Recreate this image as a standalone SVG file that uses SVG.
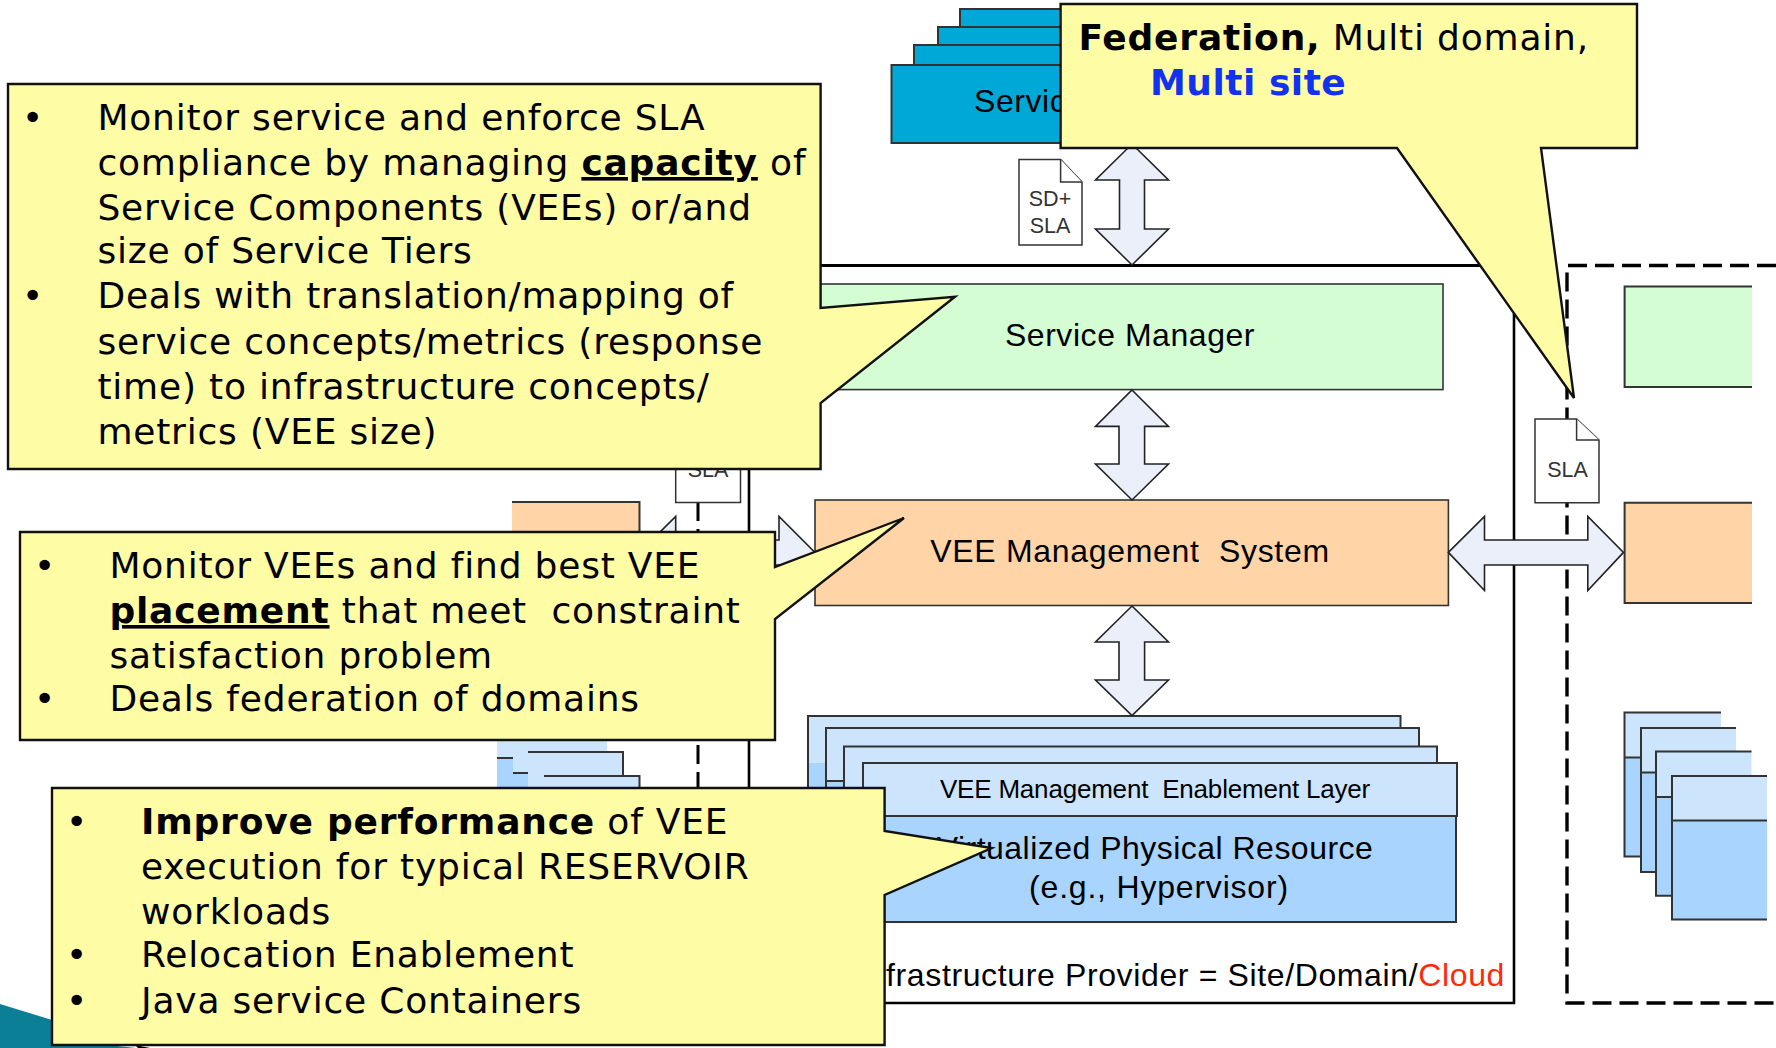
<svg xmlns="http://www.w3.org/2000/svg" width="1776" height="1048" viewBox="0 0 1776 1048">
<style>
.box{stroke:#333;stroke-width:1.6}
.svc{fill:#00a8d8;stroke:#333;stroke-width:2}
.green{fill:#d4fdd4}
.orange{fill:#ffd5a8}
.lt{fill:#cce4fc;stroke:none}
.bl{fill:#a8d4fe;stroke:none}
.ln{fill:none;stroke:#333;stroke-width:2}
.arrow{fill:#eaeff9;stroke:#222;stroke-width:1.6}
.doc{fill:#fff;stroke:#333;stroke-width:1.5}
.call{fill:#fffca6;stroke:#111;stroke-width:2.4}
.t{font-family:"Liberation Sans",Arial,sans-serif;fill:#000;font-size:32px;letter-spacing:.55px}
.d{font-family:"Liberation Sans",Arial,sans-serif;fill:#333;font-size:21.5px;text-anchor:middle}
.v{font-family:"DejaVu Sans",Verdana,sans-serif;fill:#000;font-size:36px;letter-spacing:.8px}
.b{font-weight:bold}
.m{text-anchor:middle}
</style>
<defs>
<path id="vert" class="arrow" d="M0,0 L36.5,36 L12.5,36 L12.5,85 L36.5,85 L0,121 L-36.5,85 L-12.5,85 L-12.5,36 L-36.5,36 Z"/>
</defs>
<g id="corner">
<path d="M0,1004 L52,1020 L60,1040 L136,1048 L0,1048 Z" fill="#0a7f96"/>
<path d="M135,1045 L150,1048 L138,1048 Z" fill="#000"/>
</g>
<g id="service-stack">
<rect class="svc" x="960" y="9" width="160" height="60"/>
<rect class="svc" x="938" y="27" width="180" height="60"/>
<rect class="svc" x="914" y="45" width="200" height="60"/>
<rect class="svc" x="891.5" y="65" width="220" height="78"/>
<text class="t" x="974" y="112">Servic</text>
</g>
<g id="doc-sd-sla">
<path class="doc" d="M1019,159.5 H1060.6 L1082,182 V245 H1019 Z"/>
<path class="doc" d="M1060.6,159.5 V182 H1082" fill="none"/>
<text class="d" x="1050" y="206">SD+</text>
<text class="d" x="1050" y="233">SLA</text>
</g>
<g id="cloud-box">
<path d="M749,265.5 H1514" fill="none" stroke="#000" stroke-width="3.2"/>
<path d="M1514,265.5 V1003 H749 V265.5" fill="none" stroke="#000" stroke-width="2.6"/>
</g>
<g id="peer-box">
<path d="M1776,265.5 H1567 V1003 H1776" fill="none" stroke="#000" stroke-width="3.4" stroke-dasharray="19 8"/>
</g>
<g id="left-site">
<path d="M698,502 V790" fill="none" stroke="#000" stroke-width="3" stroke-dasharray="19 8"/>
<path class="doc" d="M675.7,419 H717 L740.5,440 V502.4 H675.7 Z"/>
<text class="d" x="708" y="477">SLA</text>
<path class="orange" d="M512,502 H639.5 V605 H512 Z"/>
<path class="ln" d="M512,502 H639.5 V605"/>
<g id="left-stack">
<path class="lt" d="M497,712 H592 V860 H497 Z"/><path class="bl" d="M497,758 H592 V860 H497 Z"/><path class="ln" d="M497,758 H592"/>
<path class="lt" d="M513,728 H607 V860 H513 Z"/><path class="bl" d="M513,773 H607 V860 H513 Z"/><path class="ln" d="M513,773 H607"/>
<path class="lt" d="M528,752 H623 V860 H528 Z"/><path class="bl" d="M528,797 H623 V860 H528 Z"/><path class="ln" d="M528,752 H623 V860"/>
<path class="lt" d="M544,776 H639.5 V860 H544 Z"/><path class="bl" d="M544,821 H639.5 V860 H544 Z"/><path class="ln" d="M544,776 H639.5 V860"/>
</g>
</g>
<g id="service-manager">
<rect class="box green" x="815" y="284" width="628" height="105.6"/>
<text class="t m" x="1130" y="346">Service Manager</text>
</g>
<g id="vee-management-system">
<rect class="box orange" x="815" y="500" width="633.4" height="105.5"/>
<text class="t m" x="1130" y="562" xml:space="preserve" style="letter-spacing:.7px">VEE Management  System</text>
</g>
<g id="vee-stack">
<rect class="lt" x="808" y="716" width="592.5" height="120"/><rect class="bl" x="808" y="763" width="60" height="100"/><path class="ln" d="M808,860 V716 H1400.5 V763"/>
<rect class="lt" x="826" y="728" width="593" height="120"/><rect class="bl" x="826" y="781" width="60" height="80"/><path class="ln" d="M826,860 V728 H1419 V763"/><path class="ln" d="M826,781 H844"/>
<rect class="lt" x="844" y="746.4" width="593" height="100"/><path class="ln" d="M844,860 V746.4 H1437 V763"/>
<rect class="bl" x="863" y="816" width="593" height="106"/>
<path class="ln" d="M863,922 H1456 V816"/>
<rect class="lt" x="863" y="763" width="594" height="53"/>
<path class="ln" d="M863,816 V763 H1457 V816 H863"/>
<text class="t m" x="1155" y="798" xml:space="preserve" style="font-size:26px;letter-spacing:-.2px">VEE Management  Enablement Layer</text>
<text class="t m" x="1155" y="859" style="letter-spacing:.48px">Virtualized Physical Resource</text>
<text class="t m" x="1159" y="898" style="letter-spacing:.8px">(e.g., Hypervisor)</text>
</g>
<g id="provider-label">
<text class="t" x="1505" y="986" text-anchor="end" style="letter-spacing:.63px">frastructure Provider = Site/Domain/<tspan fill="#ff2a0a">Cloud</tspan></text>
</g>
<g id="right-site">
<path class="green" d="M1624.6,286.6 H1752 V387 H1624.6 Z"/><path class="ln" d="M1752,286.6 H1624.6 V387 H1752"/>
<path class="orange" d="M1624.6,502.7 H1752 V603 H1624.6 Z"/><path class="ln" d="M1752,502.7 H1624.6 V603 H1752"/>
<path class="doc" d="M1535,419 H1576.6 L1599,440 V502.7 H1535 Z"/>
<path class="doc" d="M1576.6,419 V440 H1599" fill="none"/>
<text class="d" x="1567.5" y="477">SLA</text>
<g id="right-stack">
<path class="lt" d="M1624.5,712.5 H1721 V757.6 H1624.5 Z"/><path class="bl" d="M1624.5,757.6 H1721 V856.5 H1624.5 Z"/><path class="ln" d="M1721,712.5 H1624.5 V856.5 H1721 M1624.5,757.6 H1721"/>
<path class="lt" d="M1641,728 H1736 V772.6 H1641 Z"/><path class="bl" d="M1641,772.6 H1736 V872 H1641 Z"/><path class="ln" d="M1736,728 H1641 V872 H1736 M1641,772.6 H1736"/>
<path class="lt" d="M1656,751.6 H1751.5 V797 H1656 Z"/><path class="bl" d="M1656,797 H1751.5 V895.7 H1656 Z"/><path class="ln" d="M1751.5,751.6 H1656 V895.7 H1751.5 M1656,797 H1751.5"/>
<path class="lt" d="M1672,776 H1767 V820.5 H1672 Z"/><path class="bl" d="M1672,820.5 H1767 V919.5 H1672 Z"/><path class="ln" d="M1767,776 H1672 V919.5 H1767 M1672,820.5 H1767"/>
</g>
</g>
<g id="connectors">
<use href="#vert" x="1132" y="144"/>
<path class="arrow" d="M1132,390 L1168.5,426.4 H1144.6 V464 H1168.5 L1132,500 L1095.5,464 H1119 V426.4 H1095.5 Z"/>
<path class="arrow" d="M1132,606 L1168.5,642 H1144.6 V680 H1168.5 L1132,715.6 L1095.5,680 H1119 V642 H1095.5 Z"/>
<path class="arrow" d="M1448.4,552.4 L1484.5,516.4 V540 H1587.8 V516.4 L1623.5,552.4 L1587.8,590.5 V565 H1484.5 V590.5 Z"/>
<path class="arrow" d="M639.5,552.4 L675.7,516.4 V540 H779 V516.4 L815,552.4 L779,590.5 V565 H675.7 V590.5 Z"/>
</g>
<g id="callout-federation">
<path class="call" d="M1060.6,4 H1637 V148 H1541 L1574,398 L1397,148 H1060.6 Z"/>
<text class="v" x="1078.4" y="50"><tspan class="b">Federation,</tspan> Multi domain,</text>
<text class="v b" x="1150" y="95" style="fill:#1232f0;letter-spacing:.5px">Multi site</text>
</g>
<g id="callout-sla">
<path class="call" d="M8,84 H820.6 V308 L955,296.7 L820.6,403 V469 H8 Z"/>
<text class="v" x="22" y="130">•</text>
<text class="v" x="97.4" y="130">Monitor service and enforce SLA</text>
<text class="v" x="97.4" y="175">compliance by managing <tspan class="b" text-decoration="underline">capacity</tspan> of</text>
<text class="v" x="97.4" y="220">Service Components (VEEs) or/and</text>
<text class="v" x="97.4" y="263">size of Service Tiers</text>
<text class="v" x="22" y="308">•</text>
<text class="v" x="97.4" y="308">Deals with translation/mapping of</text>
<text class="v" x="97.4" y="354">service concepts/metrics (response</text>
<text class="v" x="97.4" y="398.5">time) to infrastructure concepts/</text>
<text class="v" x="97.4" y="443.5">metrics (VEE size)</text>
</g>
<g id="callout-placement">
<path class="call" d="M20,532 H775 V567 L904,518 L775,619 V740 H20 Z"/>
<text class="v" x="34" y="577.6">•</text>
<text class="v" x="109.4" y="577.6">Monitor VEEs and find best VEE</text>
<text class="v" x="109.4" y="623" xml:space="preserve"><tspan class="b" text-decoration="underline">placement</tspan> that meet  constraint</text>
<text class="v" x="109.4" y="668">satisfaction problem</text>
<text class="v" x="34" y="711.4">•</text>
<text class="v" x="109.4" y="711.4">Deals federation of domains</text>
</g>
<g id="callout-performance">
<path class="call" d="M52,788 H884.6 V831 L991.7,848 L884.6,895 V1045 H52 Z"/>
<text class="v" x="66" y="833.6">•</text>
<text class="v" x="141" y="833.6"><tspan class="b">Improve performance</tspan> of VEE</text>
<text class="v" x="141" y="879">execution for typical RESERVOIR</text>
<text class="v" x="141" y="924">workloads</text>
<text class="v" x="66" y="967">•</text>
<text class="v" x="141" y="967">Relocation Enablement</text>
<text class="v" x="66" y="1013">•</text>
<text class="v" x="141" y="1013">Java service Containers</text>
</g>
</svg>
